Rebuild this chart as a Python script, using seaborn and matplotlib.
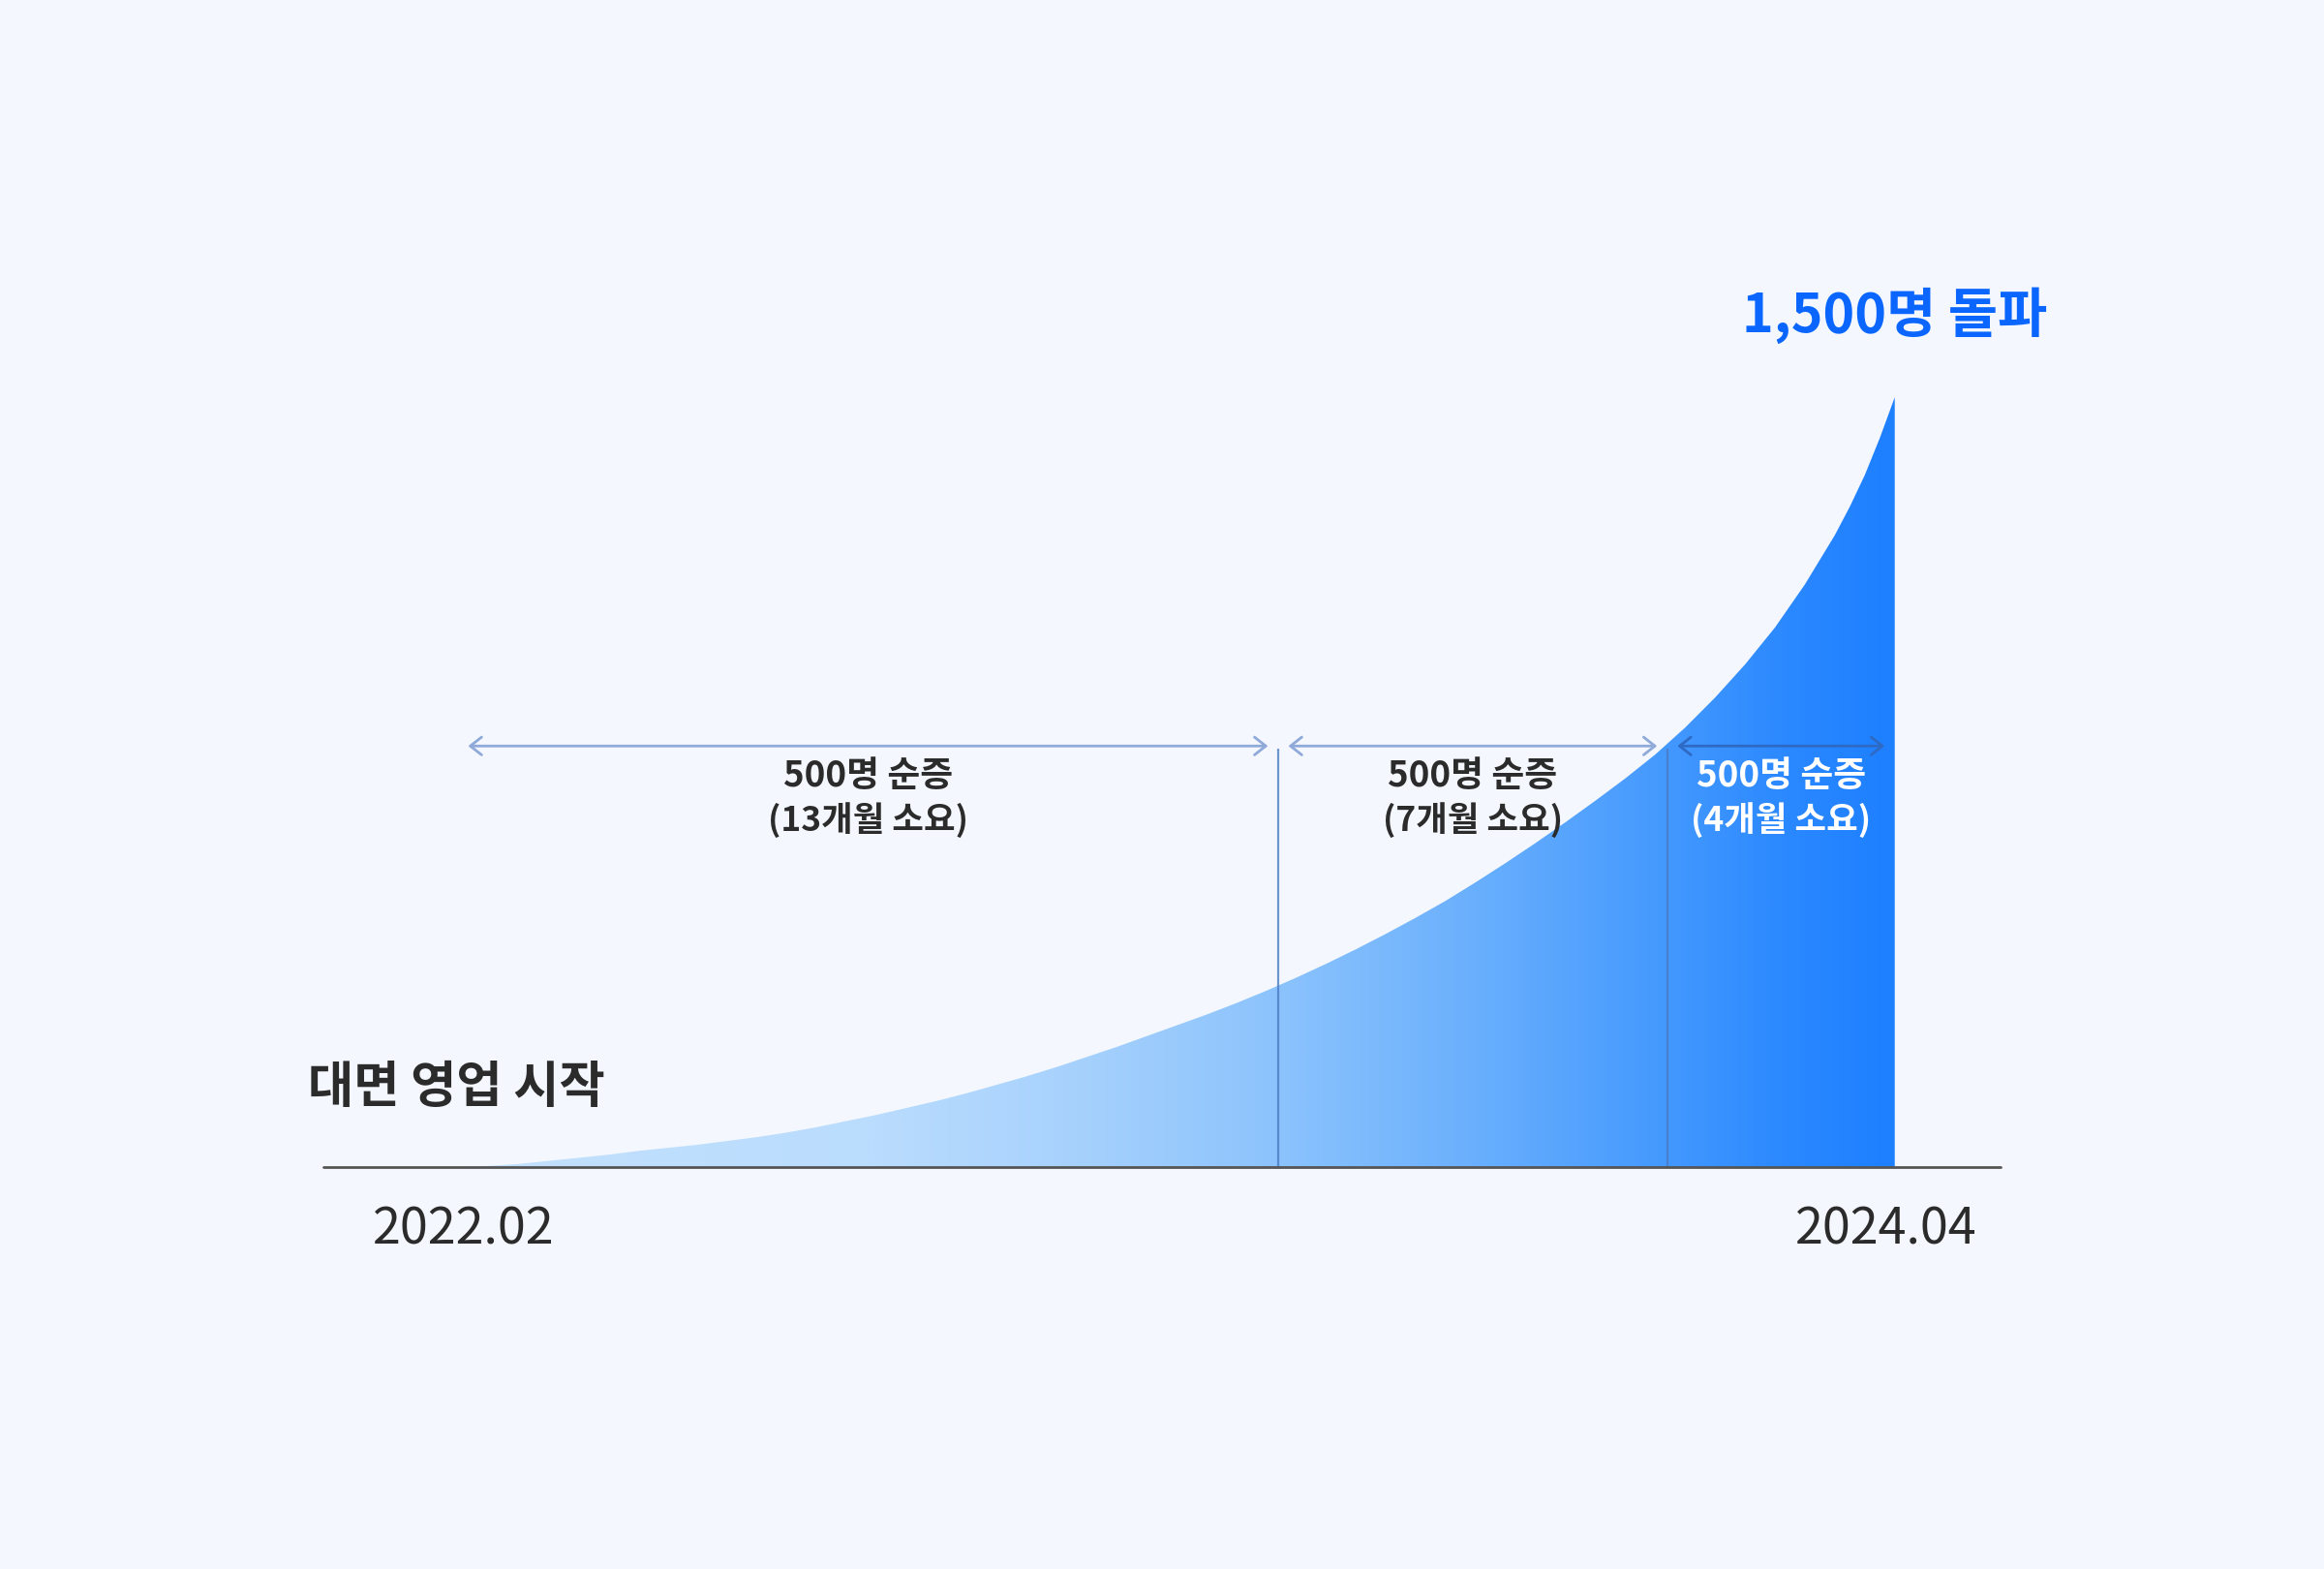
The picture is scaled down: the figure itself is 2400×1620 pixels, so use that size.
import numpy as np
import matplotlib
matplotlib.use("Agg")
import matplotlib.pyplot as plt
from matplotlib.colors import LinearSegmentedColormap
import seaborn as sns

# Set style
sns.set_theme(style="white")
plt.rcParams['font.family'] = ['Noto Sans CJK KR', 'DejaVu Sans']

# --- Data ---
# months since 2022.02, growth shown as relative height (100 = 1,500명)
months = [0, 0.5, 1, 1.5, 2, 2.5, 3, 3.5, 4, 4.5, 5, 5.5, 6, 6.5, 7, 7.5, 8,
          8.5, 9, 9.5, 10, 10.5, 11, 11.5, 12, 12.5, 13, 13.5, 14, 14.5, 15,
          15.5, 16, 16.5, 17, 17.5, 18, 18.5, 19, 19.5, 20, 20.5, 21, 21.5,
          22, 22.5, 23, 23.25, 23.5, 23.75, 24]
growth = [0, 0.15, 0.4, 0.8, 1.2, 1.6, 2.1, 2.5, 2.9, 3.4, 3.9, 4.5, 5.2, 6.0,
          6.8, 7.7, 8.6, 9.6, 10.7, 11.8, 13.0, 14.3, 15.6, 17.0, 18.4, 19.8,
          21.3, 22.9, 24.6, 26.4, 28.3, 30.3, 32.4, 34.6, 37.0, 39.5, 42.1,
          44.8, 47.6, 50.5, 53.6, 57.1, 61.0, 65.3, 70.1, 75.7, 82.1, 85.8,
          89.9, 94.7, 100]
milestone_months = [13.7, 20.2]
segment_bounds = [0, 13.7, 20.2, 24]
segment_titles = ["500명 순증", "500명 순증", "500명 순증"]
segment_notes = ["(13개월 소요)", "(7개월 소요)", "(4개월 소요)"]
start_label = "2022.02"
end_label = "2024.04"
end_month = 23.86
start_text = "대면 영업 시작"
peak_text = "1,500명 돌파"

# gradient stops along the timeline (month, colour)
grad_months = [0, 6.9, 10.1, 13.7, 16.6, 20.2, 22.3, 24]
grad_colors = ["#C3E1FD", "#BADCFD", "#A8D2FD", "#8CC3FC", "#6EB2FD",
               "#4499FE", "#2A88FF", "#1E80FF"]

# --- Layout ---
bg = "#F4F8FE"
dark = "#2B2B2B"
arrow_level = 54.7

fig = plt.figure(figsize=(24, 16.2), dpi=100, facecolor=bg)
ax = fig.add_axes([0, 0, 1, 1])
ax.set_facecolor(bg)
ax.set_xlim(-7.65, 31.17)
ax.set_ylim(-52.2, 151.6)
ax.set_axis_off()

# gradient area under the curve
pos = [(m - grad_months[0]) / (grad_months[-1] - grad_months[0]) for m in grad_months]
cmap = LinearSegmentedColormap.from_list("grow", list(zip(pos, grad_colors)))
poly = ax.fill_between(months, growth, 0, facecolor="none", edgecolor="none")
grad = np.linspace(0, 1, 600).reshape(1, -1)
im = ax.imshow(grad, cmap=cmap, aspect="auto", origin="lower",
               extent=[months[0], months[-1], 0, max(growth)], zorder=1)
im.set_clip_path(poly.get_paths()[0], transform=ax.transData)

# baseline
sns.lineplot(x=[-2.25, 25.76], y=[0, 0], ax=ax, color="#555555", linewidth=2, zorder=3)

# milestone lines
ax.vlines(milestone_months, 0, arrow_level - 0.3, colors="#4A7BC4", linewidth=1.6,
          alpha=0.8, zorder=2)

# span arrows + labels
gap = 0.17
arrow_cols = ["#8FA9D9", "#8FA9D9", "#2E6AC4"]
text_cols = [dark, dark, "white"]
for i in range(3):
    x0 = segment_bounds[i] + gap
    x1 = segment_bounds[i + 1] - gap
    ax.annotate("", xy=(x1, arrow_level), xytext=(x0, arrow_level),
                arrowprops=dict(arrowstyle="<->,head_length=0.7,head_width=0.55",
                                color=arrow_cols[i], lw=2, shrinkA=0, shrinkB=0),
                zorder=4)
    xc = (x0 + x1) / 2
    ax.text(xc, 50.8, segment_titles[i], ha="center", va="center", fontsize=26.5,
            fontweight="bold", color=text_cols[i], zorder=5)
    ax.text(xc, 45.1, segment_notes[i], ha="center", va="center", fontsize=25.5,
            fontweight="bold", color=text_cols[i], zorder=5)

# text labels
ax.text(months[-1], 110.6, peak_text, ha="center", va="center", fontsize=40,
        fontweight="bold", color="#0A66FF")
ax.text(-2.5, 10.4, start_text, ha="left", va="center", fontsize=37,
        fontweight="semibold", color=dark)
ax.text(months[0] + 0.1, -8.2, start_label, ha="center", va="center", fontsize=37.5,
        color=dark)
ax.text(end_month, -8.2, end_label, ha="center", va="center", fontsize=37.5,
        color=dark)

fig.savefig("out.png", dpi=100, facecolor=bg)
